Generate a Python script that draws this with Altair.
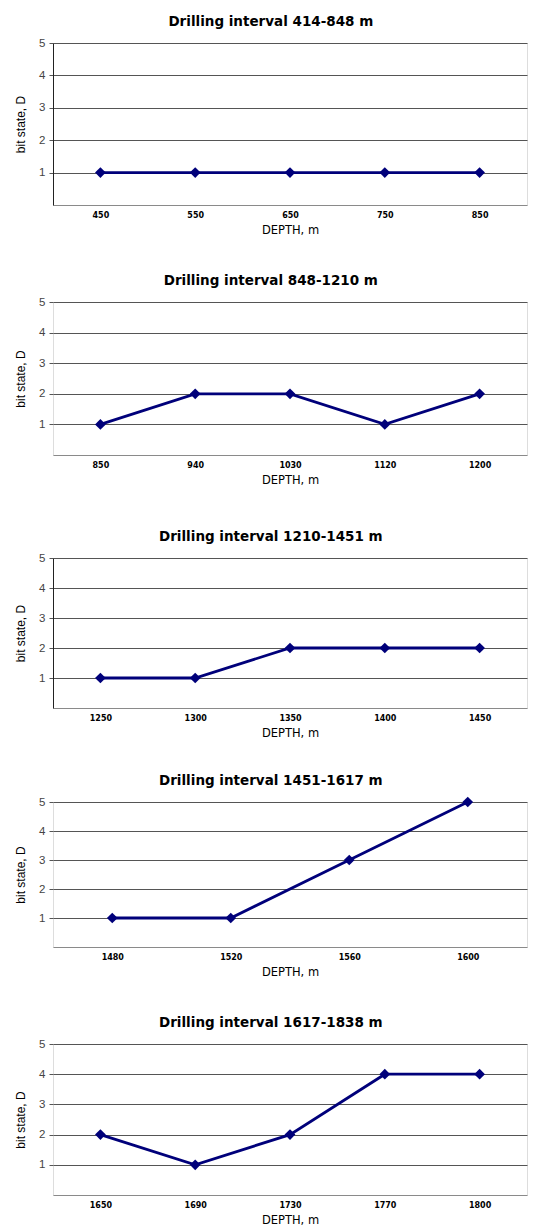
import altair as alt
import pandas as pd

titles = [
    "Drilling interval 414-848 m",
    "Drilling interval 848-1210 m",
    "Drilling interval 1210-1451 m",
    "Drilling interval 1451-1617 m",
    "Drilling interval 1617-1838 m",
]
depths_1 = [450, 550, 650, 750, 850]
states_1 = [1, 1, 1, 1, 1]
depths_2 = [850, 940, 1030, 1120, 1200]
states_2 = [1, 2, 2, 1, 2]
depths_3 = [1250, 1300, 1350, 1400, 1450]
states_3 = [1, 1, 2, 2, 2]
depths_4 = [1480, 1520, 1560, 1600]
states_4 = [1, 1, 3, 5]
depths_5 = [1650, 1690, 1730, 1770, 1800]
states_5 = [2, 1, 2, 4, 4]

y_ticks = [1, 2, 3, 4, 5]

COLOR = "#00007a"
FONT = "Liberation Sans"
WIDE = "DejaVu Sans"


def panel(title, depths, states, height, show_ydomain):
    df = pd.DataFrame({"depth": [str(d) for d in depths], "state": states})
    base = alt.Chart(df)
    x = alt.X(
        "depth:O",
        sort=None,
        axis=alt.Axis(
            title="DEPTH, m",
            labelAngle=0,
            labelFont=WIDE,
            labelFontWeight="bold",
            labelFontSize=8,
            labelColor="#000",
            labelPadding=6,
            ticks=False,
            domain=True,
            domainColor="#8a8a8a",
            domainWidth=1,
            grid=False,
            titleFont=WIDE,
            titleFontSize=11.5,
            titleFontWeight="normal",
            titleColor="#000",
            titlePadding=5,
        ),
    )
    y = alt.Y(
        "state:Q",
        scale=alt.Scale(domain=[0, 5], nice=False, zero=True),
        axis=alt.Axis(
            title="bit state, D",
            values=y_ticks,
            grid=True,
            gridColor="#555",
            gridWidth=1,
            domain=show_ydomain,
            domainColor="#222",
            ticks=True,
            tickSize=4,
            tickColor="#555",
            labelFont=FONT,
            labelFontSize=11.5,
            labelColor="#444",
            labelPadding=4,
            titleFont=FONT,
            titleFontSize=12,
            titleFontWeight="normal",
            titleColor="#000",
            titlePadding=11,
        ),
    )
    line = base.mark_line(color=COLOR, strokeWidth=2.8).encode(x=x, y=y)
    pts = base.mark_point(
        shape="diamond", filled=True, size=115, color=COLOR, opacity=1
    ).encode(x=x, y=y)
    return (line + pts).properties(
        width=474,
        height=height,
        title=alt.TitleParams(
            text=title,
            font=WIDE,
            fontSize=13.5,
            fontWeight="bold",
            color="#000",
            anchor="middle",
            frame="bounds",
            offset=9,
        ),
    )


p1 = panel(titles[0], depths_1, states_1, 162, True)
p2 = panel(titles[1], depths_2, states_2, 153, False)
p3 = panel(titles[2], depths_3, states_3, 150, True)
p4 = panel(titles[3], depths_4, states_4, 145, False)
p5 = panel(titles[4], depths_5, states_5, 151, False)

top = alt.vconcat(p1, p2, spacing=37)
bottom = alt.vconcat(p3, alt.vconcat(p4, p5, spacing=37), spacing=34)

chart = (
    alt.vconcat(top, bottom, spacing=43)
    .properties(padding={"left": 6, "top": 6, "right": 0, "bottom": 0})
    .configure_view(stroke=None)
    .configure(background="white")
)

chart.save("out.html", embed_options={"renderer": "svg", "actions": False})
